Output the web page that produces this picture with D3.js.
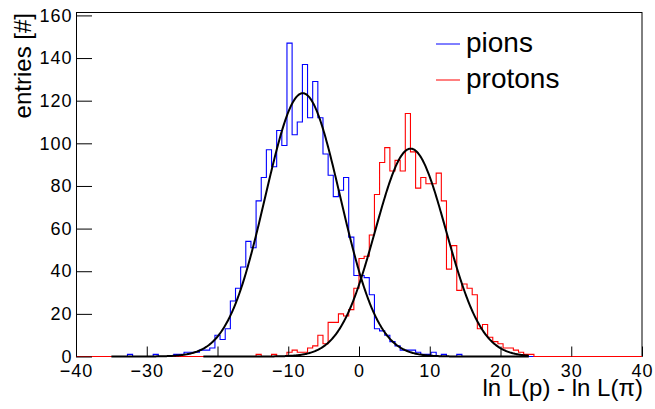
<!DOCTYPE html>
<html><head><meta charset="utf-8">
<script src="https://cdn.jsdelivr.net/npm/d3@7"></script>
<style>
html,body{margin:0;padding:0;background:#fff;}
svg{display:block;font-family:"Liberation Sans",Arial,Helvetica,sans-serif;}
</style></head>
<body><svg id="c" width="655" height="409"></svg>
<script>
// ---- data ----
const xMin = -40, xMax = 40, nBins = 110;
const pions = [
  0,0,0,0,0,0,0,0,0,0,
  1,0,0,0,0,1,0,0,0,1,
  1,2,2,2,3,3,4,10,8,13,
  26,32,42,54,51,73,84,97,89,106,
  99,147,104,110,137,112,129,112,95,85,
  75,78,84,56,38,38,37,29,13,12,
  10,7,5,3,3,3,2,1,1,2,
  0,1,0,0,1,0,0,0,0,0,
  0,0,0,0,0,0,0,0,0,0,
  0,0,0,0,0,0,0,0,0,0,
  0,0,0,0,0,0,0,0,0,0
];
const protons = [
  0,0,0,0,0,0,0,0,0,0,
  0,0,0,0,0,0,0,0,0,0,
  0,0,0,0,0,0,0,0,0,0,
  0,0,0,0,0,1,0,0,1,0,
  0,2,3,2,2,4,5,10,6,16,
  16,20,19,22,32,46,47,57,76,91,
  98,87,92,87,114,96,79,84,81,81,
  86,73,41,52,31,34,32,29,13,15,
  9,7,6,4,4,3,2,1,1,0,
  0,0,0,0,0,0,0,0,0,0,
  0,0,0,0,0,0,0,0,0,0
];
// Gaussian fit parameters (constant, mean, sigma, range)
const fitAmp   = [123.5, 97.5];
const fitMean  = [-7.95, 7.3];
const fitSigma = [5.3, 5.0];
const fitRange = [[-35, 24], [-22, 24]];
const seriesNames = ["pions", "protons"];
const seriesColors = ["#0000ff", "#ff0000"];
const xTicks = [-40,-30,-20,-10,0,10,20,30,40];
const yTicks = [0,20,40,60,80,100,120,140,160];
const xTitle = "ln L(p) - ln L(\u03c0)";
const yTitle = "entries [#]";

// ---- drawing ----
const svg = d3.select("#c");
const x = d3.scaleLinear().domain([xMin, xMax]).range([76, 642]);
const y = d3.scaleLinear().domain([0, 161.6]).range([356.5, 12]);
const bw = (xMax - xMin) / nBins;

// frame
svg.append("rect").attr("x", 76.5).attr("y", 12.5)
  .attr("width", x(xMax) - 76.5).attr("height", y(0) - 12.5)
  .attr("fill", "none").attr("stroke", "#000").attr("stroke-width", 1);

function histPath(vals) {
  const p = d3.path();
  p.moveTo(x(xMin), y(0));
  vals.forEach((v, i) => {
    const x0 = xMin + i * bw, x1 = x0 + bw;
    p.lineTo(x(x0), y(v));
    p.lineTo(x(x1), y(v));
  });
  p.lineTo(x(xMax), y(0));
  return p.toString();
}
[pions, protons].forEach((vals, i) => {
  svg.append("path").attr("d", histPath(vals))
    .attr("fill", "none").attr("stroke", seriesColors[i]).attr("stroke-width", 1.1);
});

// fits
const line = d3.line().x(d => x(d[0])).y(d => y(d[1]));
for (let f = 0; f < 2; f++) {
  const pts = d3.range(fitRange[f][0], fitRange[f][1] + 0.001, 0.1).map(t =>
    [t, fitAmp[f] * Math.exp(-0.5 * Math.pow((t - fitMean[f]) / fitSigma[f], 2))]);
  svg.append("path").attr("d", line(pts)).attr("fill", "none")
    .attr("stroke", "#000").attr("stroke-width", 2);
}

// axes
const fmt = d => (d < 0 ? "\u2212" + Math.abs(d) : String(d));
const gx = svg.append("g").attr("transform", `translate(0,${y(0)})`);
gx.call(d3.axisBottom(x).tickValues(d3.range(xMin, xMax + 0.01, 2)).tickSize(-5).tickFormat(""));
gx.call(d3.axisBottom(x).tickValues(xTicks).tickSize(-10).tickPadding(8).tickFormat(fmt));
gx.selectAll(".domain").remove();
gx.selectAll("text").attr("font-size", 18).attr("font-family", "Liberation Sans, Arial, sans-serif")
  .attr("fill", "#000").style("letter-spacing", "1px");
gx.selectAll("line").attr("stroke", "#000");

const gy = svg.append("g").attr("transform", `translate(${x(xMin)},0)`);
gy.call(d3.axisLeft(y).tickValues(d3.range(0, 161, 5)).tickSize(-8).tickFormat(""));
gy.call(d3.axisLeft(y).tickValues(yTicks).tickSize(-16).tickPadding(3.5).tickFormat(d3.format("d")));
gy.selectAll(".domain").remove();
gy.selectAll("text").attr("font-size", 18).attr("font-family", "Liberation Sans, Arial, sans-serif")
  .attr("fill", "#000").style("letter-spacing", "1px");
gy.selectAll("line").attr("stroke", "#000");

// titles
svg.append("text").attr("x", 643).attr("y", 396).attr("text-anchor", "end")
  .attr("font-size", 24).text(xTitle);
svg.append("text").attr("transform", "translate(31,13) rotate(-90)")
  .attr("text-anchor", "end").attr("font-size", 24).text(yTitle);

// legend
const legY = [44, 80];
seriesNames.forEach((n, i) => {
  svg.append("line").attr("x1", 436).attr("x2", 460).attr("y1", legY[i]).attr("y2", legY[i])
    .attr("stroke", seriesColors[i]).attr("stroke-width", 1);
  svg.append("text").attr("x", 466).attr("y", legY[i] + 8).attr("font-size", 28).text(n);
});
</script></body></html>
